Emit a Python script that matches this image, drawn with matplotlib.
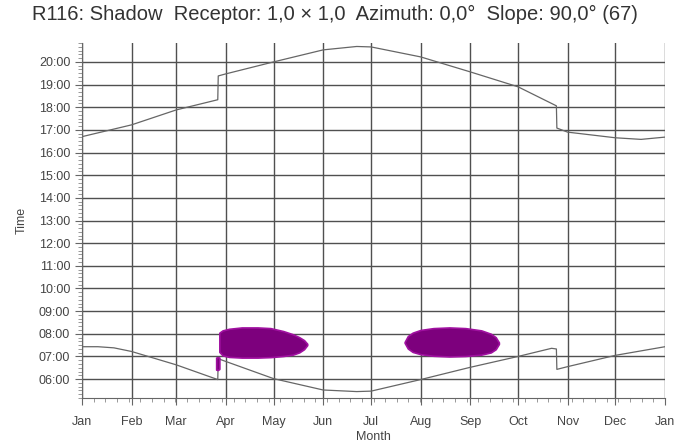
import numpy as np
import matplotlib
matplotlib.use('Agg')
from matplotlib import pyplot as plt

plt.rcParams['font.family'] = ['Liberation Sans', 'DejaVu Sans']

# day of year -> clock time (hours)
sunset_day = [0, 31, 59, 85, 85.3, 90, 120, 151, 172, 181, 212, 243, 273, 297, 297.3, 304, 334, 350, 365]
sunset_hr = [16.70, 17.22, 17.88, 18.33, 19.38, 19.47, 20.00, 20.53, 20.68, 20.66, 20.22, 19.56, 18.90,
             18.06, 17.08, 16.90, 16.65, 16.58, 16.68]

sunrise_day = [0, 10, 20, 31, 59, 85, 85.3, 90, 120, 151, 172, 181, 212, 243, 273, 294, 297, 297.3, 304, 334, 365]
sunrise_hr = [7.43, 7.43, 7.38, 7.22, 6.63, 5.98, 6.90, 6.78, 6.02, 5.52, 5.45, 5.47, 5.98, 6.52, 7.00,
              7.36, 7.33, 6.43, 6.55, 7.05, 7.43]

# shadow periods (day, start, end)
spring_day = [86, 88, 92, 100, 110, 118, 126, 132, 136, 139, 141]
spring_start = [7.20, 7.05, 6.98, 6.95, 6.95, 6.97, 7.02, 7.08, 7.18, 7.32, 7.50]
spring_end = [8.05, 8.15, 8.22, 8.28, 8.28, 8.25, 8.12, 7.98, 7.85, 7.72, 7.56]

small_day = [84, 85, 86]
small_start = [6.42, 6.40, 6.45]
small_end = [6.95, 6.97, 6.95]

summer_day = [202, 204, 207, 212, 220, 230, 240, 250, 256, 259, 261]
summer_start = [7.60, 7.35, 7.20, 7.10, 7.03, 7.00, 7.02, 7.08, 7.18, 7.32, 7.55]
summer_end = [7.64, 7.90, 8.05, 8.17, 8.25, 8.28, 8.25, 8.15, 8.00, 7.85, 7.62]

months = ['Jan', 'Feb', 'Mar', 'Apr', 'May', 'Jun', 'Jul', 'Aug', 'Sep', 'Oct', 'Nov', 'Dec', 'Jan']
month_start = [0, 31, 59, 90, 120, 151, 181, 212, 243, 273, 304, 334, 365]
hours = list(range(6, 21))

fig = plt.figure(figsize=(6.8, 4.43), dpi=100)
ax = fig.add_axes([82/680, 1-398/443, (665-82)/680, (398-43)/443])

purple = '#7d007d'
for d, s, e in [(spring_day, spring_start, spring_end), (small_day, small_start, small_end),
                (summer_day, summer_start, summer_end)]:
    ax.fill_between(d, s, e, color=purple, edgecolor='#a010a0', linewidth=1.2, zorder=3)

ax.plot(sunset_day, sunset_hr, color='#666666', lw=0.9, zorder=2)
ax.plot(sunrise_day, sunrise_hr, color='#666666', lw=0.9, zorder=2)

ax.set_xlim(0, 365)
ax.set_ylim(5 + 10/60, 20 + 50/60)

ax.set_xticks(month_start)
ax.set_xticklabels(months)
ax.set_xticks(np.arange(0, 365, 7.3), minor=True)
ax.set_yticks(hours)
ax.set_yticklabels(['%02d:00' % h for h in hours])
ax.set_yticks(np.arange(5 + 10/60, 20.84, 1/6), minor=True)

ax.grid(True, which='major', color='#505050', lw=1.0)
ax.set_axisbelow(True)
for s in ['top', 'right']:
    ax.spines[s].set_visible(False)
for s in ['left', 'bottom']:
    ax.spines[s].set_color('#666666')
ax.tick_params(axis='x', which='major', pad=8)
ax.tick_params(which='major', length=5, color='#666666', labelsize=9, labelcolor='#444444')
ax.tick_params(which='minor', length=3, color='#888888')

ax.set_xlabel('Month', fontsize=9, color='#444444', labelpad=2)
ax.set_ylabel('Time', fontsize=9, color='#444444', labelpad=8)

fig.text(32/680, 1-14/443, 'R116: Shadow  Receptor: 1,0 \u00d7 1,0  Azimuth: 0,0\u00b0  Slope: 90,0\u00b0 (67)',
         fontsize=14.5, color='#333333', ha='left', va='center')

fig.savefig('out.png', dpi=100)
